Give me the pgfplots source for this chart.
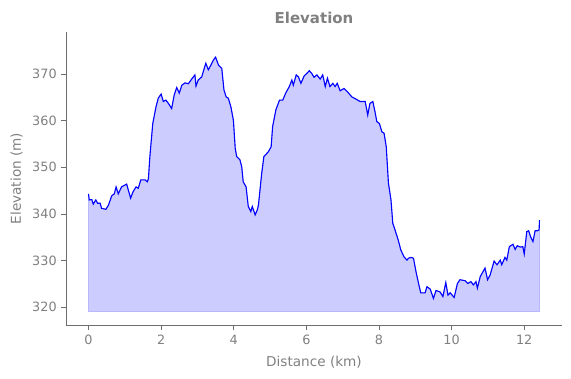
\documentclass[border=0pt]{standalone}
\usepackage{pgfplots}
\pgfplotsset{compat=1.18}
\usepackage{pgfplotstable}
\usepackage{fontspec}
\setmainfont{DejaVu Sans}
\definecolor{txtgray}{RGB}{128,128,128}
\definecolor{spinegray}{RGB}{110,110,110}
\pgfplotstableread{
x y
0.00 344.3
0.02 343.0
0.09 343.1
0.13 342.1
0.20 343.0
0.25 342.3
0.32 342.3
0.36 341.2
0.48 341.0
0.55 341.9
0.64 343.9
0.71 344.3
0.76 345.8
0.82 344.3
0.91 345.8
1.05 346.4
1.16 343.4
1.23 344.8
1.31 345.8
1.37 345.5
1.44 347.3
1.56 347.3
1.62 346.9
1.65 347.6
1.69 352.3
1.77 359.4
1.86 363.0
1.92 364.8
2.00 365.7
2.06 364.1
2.13 364.4
2.20 363.7
2.29 362.6
2.36 365.5
2.43 367.1
2.50 365.9
2.57 367.6
2.66 368.1
2.75 367.9
2.84 368.9
2.93 369.8
2.96 367.4
3.02 368.7
3.12 369.4
3.16 370.5
3.23 372.3
3.30 370.9
3.37 371.9
3.44 373.0
3.50 373.6
3.58 371.9
3.67 371.2
3.73 366.6
3.79 365.1
3.85 364.8
3.92 363.0
3.99 360.1
4.04 354.1
4.08 352.3
4.17 351.6
4.22 350.1
4.26 346.9
4.34 345.8
4.40 341.6
4.47 340.5
4.51 341.6
4.59 339.8
4.65 340.9
4.68 341.9
4.77 348.7
4.83 352.3
4.95 353.3
5.03 354.4
5.07 358.7
5.16 362.3
5.26 364.4
5.35 364.4
5.43 365.9
5.53 367.3
5.60 368.7
5.64 367.6
5.72 369.8
5.78 369.4
5.85 368.0
5.94 369.6
6.01 370.1
6.08 370.7
6.15 370.1
6.21 369.3
6.29 369.8
6.38 368.9
6.45 369.8
6.52 367.3
6.58 369.1
6.65 367.3
6.73 368.0
6.79 367.3
6.85 368.0
6.93 366.4
7.04 366.9
7.13 366.2
7.25 365.1
7.37 364.6
7.48 364.1
7.62 364.1
7.69 361.2
7.75 363.7
7.83 364.1
7.89 361.9
7.94 359.8
8.01 359.4
8.08 357.6
8.14 357.3
8.20 354.4
8.26 346.6
8.33 343.0
8.38 338.0
8.44 336.6
8.53 334.4
8.60 332.3
8.69 330.8
8.77 330.1
8.81 330.5
8.88 330.7
8.95 330.5
9.02 327.6
9.09 325.1
9.15 323.1
9.27 323.1
9.32 324.4
9.41 323.9
9.50 321.9
9.57 323.6
9.68 323.3
9.76 322.3
9.84 325.3
9.90 322.6
9.96 323.1
10.07 322.1
10.16 325.1
10.23 325.9
10.37 325.7
10.45 325.1
10.53 325.5
10.60 324.8
10.67 325.5
10.71 324.1
10.79 326.6
10.92 328.4
10.99 325.9
11.06 326.9
11.17 329.9
11.25 329.1
11.34 330.1
11.38 329.1
11.47 330.7
11.52 330.1
11.59 333.0
11.69 333.5
11.75 332.4
11.81 333.2
11.89 332.9
11.96 333.0
12.00 331.4
12.07 336.2
12.12 336.4
12.18 335.0
12.24 334.1
12.30 336.4
12.36 336.4
12.41 336.6
12.42 338.7
}\elevdata
\begin{document}
\fontsize{12.4}{14.5}\selectfont
\begin{tikzpicture}
\begin{axis}[
  at={(0pt,0pt)}, anchor=south west,
  scale only axis, width=496pt, height=293pt,
  xmin=-0.62, xmax=13.04, ymin=316.2, ymax=379.0,
  axis x line*=bottom, axis y line*=left,
  axis line style={-, spinegray, line width=0.8pt},
  xtick={0,2,4,6,8,10,12}, ytick={320,330,340,350,360,370},
  tick align=outside, major tick length=5pt,
  tick style={spinegray, line width=0.8pt},
  ticklabel style={text=txtgray, font=\fontsize{12.8}{14.5}\selectfont},
  xticklabel style={yshift=-1pt},
  /pgf/number format/assume math mode=true,
  xlabel={Distance (km)}, ylabel={Elevation (m)},
  label style={text=txtgray, font=\fontsize{13.6}{15.5}\selectfont},
  xlabel style={at={(axis description cs:0.5,-0.1416)}, anchor=base},
  ylabel style={at={(axis description cs:-0.0998,0.5)}, anchor=center},
  title={Elevation},
  title style={text=txtgray, font=\fontsize{15}{16}\selectfont\bfseries, at={(axis description cs:0.5,1)}, anchor=base, yshift=3pt},
]
\addplot[fill=blue!20, draw=blue!28, line width=0.8pt] table[x=x,y=y] {\elevdata} -- (axis cs:12.42,319.1) -- (axis cs:0,319.1) -- cycle;
\addplot[blue, line width=1.1pt] table[x=x,y=y] {\elevdata};
\end{axis}
\path[use as bounding box] (-66pt,-53pt) rectangle (505pt,325pt);
\end{tikzpicture}
\end{document}
